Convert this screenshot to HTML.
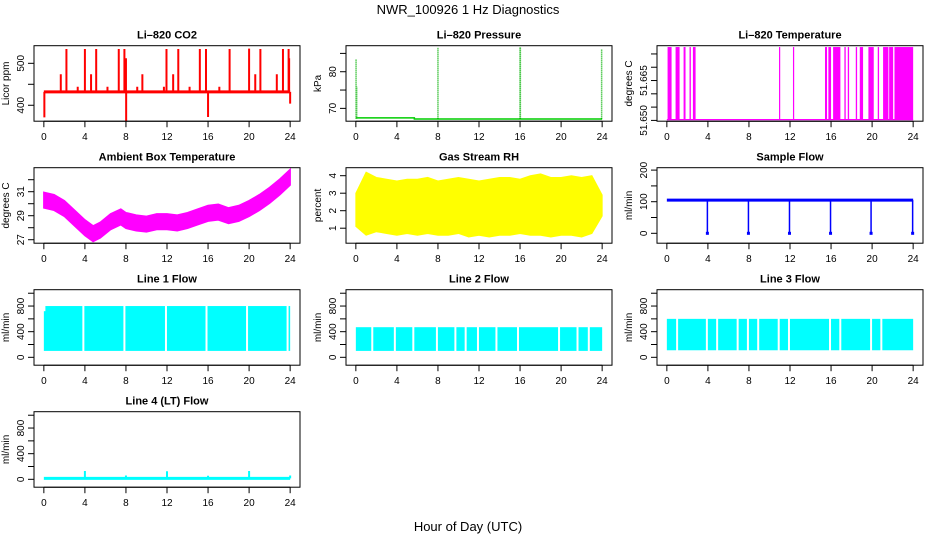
<!DOCTYPE html>
<html><head><meta charset="utf-8"><style>
html,body{margin:0;padding:0;background:#fff;}
svg{display:block;font-family:"Liberation Sans",sans-serif;}
</style></head><body>
<svg id="fig" width="936" height="540" viewBox="0 0 936 540" xmlns="http://www.w3.org/2000/svg">
<rect width="936" height="540" fill="#fff"/>
<text x="468" y="14" text-anchor="middle" font-size="13">NWR_100926  1 Hz Diagnostics</text>
<text x="468" y="531" text-anchor="middle" font-size="13">Hour of Day (UTC)</text>
</svg>
<script>
// ---- data ----
const xTicks = [0,4,8,12,16,20,24];
// CO2
const co2Base = 432;
const co2SpikeHours = [2.2,4.0,5.1,7.3,7.85,11.95,13.1,15.2,15.8,18.1,20.0,21.1,23.3,23.85,1.65,4.6,8.0,9.6,12.6,20.6,22.7,23.9,3.3,6.2,9.1,11.7,14.2,17.1,0.05,8.02,16.0,24.0];
const co2SpikeVals = [534,534,534,534,534,534,534,534,534,534,535,534,534,534,474,474,512,474,474,474,474,512,444,444,444,444,444,444,371,362,372,404];
// Pressure
const presBaseHours = [0,5.7,5.7,24];
const presBaseVals = [67.4,67.4,67.1,67.1];
const presSpikeHours = [0.02,0.08,8.0,16.0,16.03,23.95];
const presSpikeVals = [83.5,76.0,86.5,86.8,86.8,86.3];
// Li-820 temperature
const tempLow = 51.6503, tempHigh = 51.6776;
const tempHighStart = [0.07,0.85,1.63,2.21,2.54,10.93,12.29,15.41,15.74,16.2,17.3,17.63,18.41,18.8,19.64,20.55,21.07,21.66,22.18];
const tempHighEnd   = [0.46,1.24,1.82,2.34,2.80,10.99,12.36,15.61,16.0,16.91,17.43,17.76,18.54,19.12,20.16,20.68,21.59,22.05,24.0];
// Ambient box temperature
const ambHours = [0,1,2,3,4,4.8,5.5,6.5,7.5,8,9,10,11,12,13,14,15,16,17,18,19,20,21,22,23,24];
const ambCenter = [30.3,30.1,29.6,28.8,28.0,27.5,27.8,28.5,28.9,28.6,28.4,28.3,28.5,28.5,28.4,28.6,28.9,29.2,29.3,29.0,29.2,29.6,30.1,30.7,31.4,32.2];
const ambSpread = 0.65;
// Gas stream RH
const rhHours = [0,1,2,3,4,5,6,7,8,9,10,11,12,13,14,15,16,17,18,19,20,21,22,23,24];
const rhHigh = [3.0,4.2,3.9,3.8,3.7,3.8,3.8,3.9,3.7,3.8,3.9,3.8,3.7,3.8,3.9,3.9,3.8,4.0,4.1,3.9,3.9,4.0,3.9,4.0,2.9];
const rhLow  = [1.1,0.6,0.8,0.7,0.6,0.7,0.6,0.7,0.6,0.6,0.7,0.5,0.6,0.5,0.6,0.6,0.7,0.6,0.6,0.5,0.6,0.6,0.5,0.7,1.7];
// Sample flow
const sampleBase = 105;
const sampleDipHours = [3.95,7.95,11.95,15.95,19.9,23.95];
const sampleDipVals = [0,0,0,0,0,0];
// Line flows
const line1Low = 100, line1High = 800, line1StartHigh = 720;
const line1GapHours = [3.85,7.85,11.9,15.85,19.8,23.75];
const line2Low = 100, line2High = 470;
const line2GapHours = [1.6,3.8,5.6,7.9,9.7,10.7,11.9,13.7,15.8,19.8,21.6,22.7];
const line3Low = 110, line3High = 600;
const line3GapHours = [1.0,3.9,4.9,6.9,7.9,8.9,10.9,11.9,15.9,16.9,19.9,20.9];
const line4Base = 15;
const line4SpikeHours = [4,8,12,16,20,24];
const line4SpikeVals = [130,60,125,55,130,60];

// ---- drawing ----
const NS = "http://www.w3.org/2000/svg";
const svg = document.getElementById('fig');
function mk(tag, attrs, parent){
  const e = document.createElementNS(NS, tag);
  for (const k in attrs) e.setAttribute(k, attrs[k]);
  (parent||svg).appendChild(e);
  return e;
}
const colLeft = [34,346,657], W = 266, rowTop = [45.7,167.7,289.7,411.7], H = 75.5;

function panel(col,row,name,title,ylab,ylim,ticks,labels){
  const g = mk('g',{});
  
  
  const L = colLeft[col], T = rowTop[row];
  const xs = h => L + (h + 0.96) / 25.92 * W;
  const ys = v => T + H - (v - ylim[0]) / (ylim[1]-ylim[0]) * H;
  const t = mk('text',{x:L+W/2,y:T-7,'text-anchor':'middle','font-size':'11','font-weight':'bold'},g);
  t.textContent = title;
  
  
  const plot = mk('g',{},g);
  
  
  const clipId = 'c'+name;
  const cp = mk('clipPath',{id:clipId},g);
  mk('rect',{x:L,y:T,width:W,height:H},cp);
  plot.setAttribute('clip-path','url(#'+clipId+')');
  const box = mk('rect',{x:L,y:T,width:W,height:H,fill:'none',stroke:'#000','stroke-width':1},g);
  
  
  const xa = mk('g',{},g);
  
  
  const yb = T+H;
  mk('line',{x1:xs(xTicks[0]),x2:xs(xTicks[xTicks.length-1]),y1:yb,y2:yb,stroke:'#000'},xa);
  xTicks.forEach(h=>{
    mk('line',{x1:xs(h),x2:xs(h),y1:yb,y2:yb+6,stroke:'#000'},xa);
    const tl = mk('text',{x:xs(h),y:yb+19,'text-anchor':'middle','font-size':'10'},xa);
    tl.textContent = h;
  });
  const ya = mk('g',{},g);
  
  
  ticks.forEach(v=>{
    mk('line',{x1:L,x2:L-6,y1:ys(v),y2:ys(v),stroke:'#000'},ya);
  });
  labels.forEach(v=>{
    const tl = mk('text',{x:0,y:0,'text-anchor':'middle','font-size':'10',transform:`translate(${L-10},${ys(v[0])}) rotate(-90)`},ya);
    tl.textContent = v[1];
  });
  const yl = mk('text',{x:0,y:0,'text-anchor':'middle','font-size':'10',transform:`translate(${L-25},${T+H/2}) rotate(-90)`},g);
  yl.textContent = ylab;
  
  
  return {plot,xs,ys};
}
function vline(p,x,y1,y2,color,w){ return mk('line',{x1:x,x2:x,y1:y1,y2:y2,stroke:color,'stroke-width':w||1.5},p); }

// CO2
(function(){
  const P = panel(0,0,'co2','Li\u2013820 CO2','Licor ppm',[362,542],[400,450,500],[[400,'400'],[500,'500']]);
  mk('line',{x1:P.xs(0),x2:P.xs(24),y1:P.ys(co2Base),y2:P.ys(co2Base),stroke:'#f00','stroke-width':3},P.plot);
  co2SpikeHours.forEach((h,i)=>{
    const l = vline(P.plot,P.xs(h),P.ys(co2Base),P.ys(co2SpikeVals[i]),'#f00',2);
    
    
  });
})();
// Pressure
(function(){
  const P = panel(1,0,'pressure','Li\u2013820 Pressure','kPa',[66.5,87.1],[70,75,80,85],[[70,'70'],[80,'80']]);
  const pts = presBaseHours.map((h,i)=>P.xs(h)+','+P.ys(presBaseVals[i])).join(' ');
  mk('polyline',{points:pts,fill:'none',stroke:'#00cd00','stroke-width':1.5},P.plot);
  presSpikeHours.forEach((h,i)=>{
    const l = vline(P.plot,P.xs(h),P.ys(67.2),P.ys(presSpikeVals[i]),'#00b000',1.5);
    l.setAttribute('stroke-dasharray','1 1');
    
    
  });
})();
// Li-820 temperature
(function(){
  const P = panel(2,0,'li820-temp','Li\u2013820 Temperature','degrees C',[51.6497,51.6781],[51.650,51.655,51.660,51.665,51.670,51.675],[[51.650,'51.650'],[51.665,'51.665']]);
  mk('line',{x1:P.xs(0),x2:P.xs(24),y1:P.ys(tempLow),y2:P.ys(tempLow),stroke:'#f0f','stroke-width':1.2},P.plot);
  tempHighStart.forEach((s,i)=>{
    const x1 = P.xs(s), x2 = P.xs(tempHighEnd[i]);
    const r = mk('rect',{x:x1,y:P.ys(tempHigh),width:Math.max(1.2,x2-x1),height:P.ys(tempLow)-P.ys(tempHigh),fill:'#f0f'},P.plot);
    
    
  });
})();
// Ambient
(function(){
  const P = panel(0,1,'ambient-temp','Ambient Box Temperature','degrees C',[26.71,33.0],[27,28,29,30,31,32],[[27,'27'],[29,'29'],[31,'31']]);
  const up = ambHours.map((h,i)=>P.xs(h)+','+P.ys(ambCenter[i]+ambSpread));
  const dn = ambHours.map((h,i)=>P.xs(h)+','+P.ys(ambCenter[i]-ambSpread)).reverse();
  const b = mk('polygon',{points:up.concat(dn).join(' '),fill:'#f0f',stroke:'#f0f','stroke-width':1.5},P.plot);
  
  
})();
// RH
(function(){
  const P = panel(1,1,'gas-rh','Gas Stream RH','percent',[0.143,4.457],[1,2,3,4],[[1,'1'],[2,'2'],[3,'3'],[4,'4']]);
  const up = rhHours.map((h,i)=>P.xs(h)+','+P.ys(rhHigh[i]));
  const dn = rhHours.map((h,i)=>P.xs(h)+','+P.ys(rhLow[i])).reverse();
  const b = mk('polygon',{points:up.concat(dn).join(' '),fill:'#ff0',stroke:'#ff0','stroke-width':1},P.plot);
  
  
})();
// Sample flow
(function(){
  const P = panel(2,1,'sample-flow','Sample Flow','ml/min',[-31.3,207.6],[0,50,100,150,200],[[0,'0'],[100,'100'],[200,'200']]);
  mk('line',{x1:P.xs(0),x2:P.xs(24),y1:P.ys(sampleBase),y2:P.ys(sampleBase),stroke:'#00f','stroke-width':3},P.plot);
  sampleDipHours.forEach((h,i)=>{
    const l = vline(P.plot,P.xs(h),P.ys(sampleBase),P.ys(sampleDipVals[i]),'#00f',1.5);
    
    
    mk('rect',{x:P.xs(h)-1.5,y:P.ys(sampleDipVals[i])-1.5,width:3,height:3,fill:'#00f'},P.plot);
  });
})();
// Line flows
function flowPanel(col,row,name,title,lo,hi,gaps){
  const P = panel(col,row,name,title,'ml/min',[-123,1055],[0,200,400,600,800,1000],[[0,'0'],[400,'400'],[800,'800']]);
  const r = mk('rect',{x:P.xs(0),y:P.ys(hi),width:P.xs(24)-P.xs(0),height:P.ys(lo)-P.ys(hi),fill:'#0ff'},P.plot);
  
  
  gaps.forEach(h=>{
    const l = vline(P.plot,P.xs(h),P.ys(hi)-1,P.ys(lo)+1,'#fff',2);
    
    
  });
  return P;
}
const P1 = flowPanel(0,2,'line1-flow','Line 1 Flow',line1Low,line1High,line1GapHours);
(function(){
  const r = mk('rect',{x:P1.xs(0)-1,y:P1.ys(line1High)-1,width:P1.xs(0.15)-P1.xs(0)+1,height:P1.ys(line1StartHigh)-P1.ys(line1High)+1,fill:'#fff'},P1.plot);
  
  
})();
flowPanel(1,2,'line2-flow','Line 2 Flow',line2Low,line2High,line2GapHours);
flowPanel(2,2,'line3-flow','Line 3 Flow',line3Low,line3High,line3GapHours);
(function(){
  const P = panel(0,3,'line4-flow','Line 4 (LT) Flow','ml/min',[-123,1055],[0,200,400,600,800,1000],[[0,'0'],[400,'400'],[800,'800']]);
  mk('line',{x1:P.xs(0),x2:P.xs(24),y1:P.ys(line4Base),y2:P.ys(line4Base),stroke:'#0ff','stroke-width':3},P.plot);
  line4SpikeHours.forEach((h,i)=>{
    const l = vline(P.plot,P.xs(h),P.ys(line4Base),P.ys(line4SpikeVals[i]),'#0ff',2);
    
    
  });
})();
</script>
</body></html>
